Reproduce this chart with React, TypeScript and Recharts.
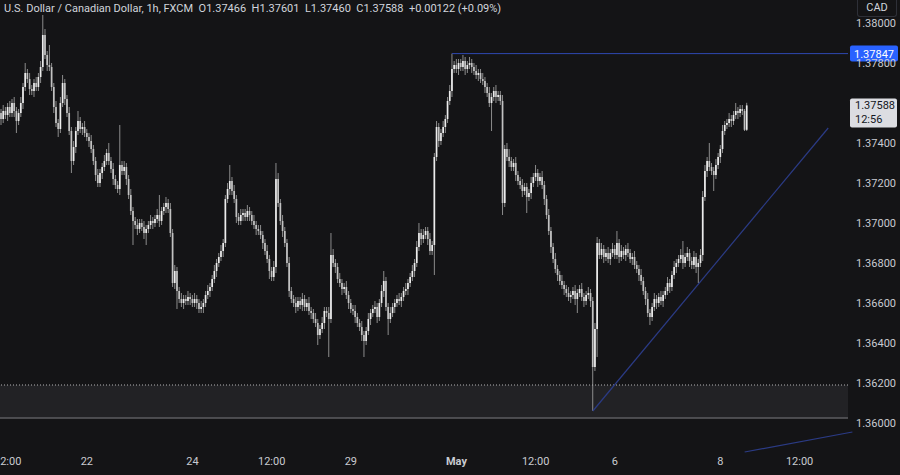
import React from 'react';
import { ComposedChart, Bar, XAxis, YAxis, ReferenceLine, ReferenceArea } from 'recharts';

// USDCAD 1h candles (oldest first)
const opens = [
  1.3755, 1.3752, 1.3756, 1.3754, 1.3758, 1.3755, 1.3760, 1.3756, 1.3751, 1.3755,
  1.3760, 1.3768, 1.3775, 1.3772, 1.3767, 1.3766, 1.3770, 1.3768, 1.3773, 1.3778,
  1.3794, 1.3784, 1.3779, 1.3778, 1.3768, 1.3758, 1.3750, 1.3747, 1.3760, 1.3770,
  1.3762, 1.3755, 1.3746, 1.3731, 1.3738, 1.3746, 1.3751, 1.3747, 1.3748, 1.3745,
  1.3743, 1.3741, 1.3737, 1.3731, 1.3724, 1.3720, 1.3725, 1.3728, 1.3731, 1.3735,
  1.3731, 1.3727, 1.3722, 1.3719, 1.3717, 1.3729, 1.3726, 1.3728, 1.3722, 1.3714,
  1.3706, 1.3701, 1.3699, 1.3697, 1.3700, 1.3698, 1.3695, 1.3697, 1.3699, 1.3701,
  1.3700, 1.3702, 1.3704, 1.3701, 1.3706, 1.3708, 1.3710, 1.3707, 1.3695, 1.3670,
  1.3676, 1.3666, 1.3662, 1.3660, 1.3662, 1.3661, 1.3663, 1.3662, 1.3660, 1.3662,
  1.3660, 1.3657, 1.3658, 1.3660, 1.3664, 1.3666, 1.3668, 1.3672, 1.3676, 1.3680,
  1.3683, 1.3686, 1.3690, 1.3712, 1.3717, 1.3721, 1.3716, 1.3712, 1.3703, 1.3701,
  1.3704, 1.3705, 1.3703, 1.3706, 1.3704, 1.3701, 1.3699, 1.3697, 1.3696, 1.3694,
  1.3690, 1.3686, 1.3682, 1.3676, 1.3673, 1.3678, 1.3722, 1.3710, 1.3701, 1.3696,
  1.3690, 1.3680, 1.3666, 1.3662, 1.3660, 1.3658, 1.3661, 1.3659, 1.3662, 1.3658,
  1.3660, 1.3656, 1.3655, 1.3652, 1.3650, 1.3644, 1.3647, 1.3650, 1.3656, 1.3655,
  1.3652, 1.3684, 1.3680, 1.3678, 1.3672, 1.3670, 1.3667, 1.3668, 1.3664, 1.3660,
  1.3657, 1.3656, 1.3653, 1.3650, 1.3648, 1.3644, 1.3641, 1.3646, 1.3652, 1.3655,
  1.3657, 1.3658, 1.3653, 1.3660, 1.3666, 1.3671, 1.3658, 1.3652, 1.3655, 1.3658,
  1.3660, 1.3662, 1.3661, 1.3663, 1.3666, 1.3667, 1.3670, 1.3673, 1.3676, 1.3680,
  1.3688, 1.3695, 1.3692, 1.3694, 1.3696, 1.3692, 1.3686, 1.3689, 1.3733, 1.3748,
  1.3741, 1.3745, 1.3748, 1.3752, 1.3761, 1.3766, 1.3777, 1.3779, 1.3777, 1.3780,
  1.3778, 1.3781, 1.3777, 1.3779, 1.3780, 1.3778, 1.3776, 1.3774, 1.3775, 1.3772,
  1.3771, 1.3768, 1.3765, 1.3760, 1.3763, 1.3766, 1.3763, 1.3764, 1.3761, 1.3710,
  1.3737, 1.3733, 1.3731, 1.3728, 1.3730, 1.3724, 1.3721, 1.3719, 1.3716, 1.3718,
  1.3713, 1.3715, 1.3720, 1.3723, 1.3725, 1.3721, 1.3723, 1.3719, 1.3712, 1.3704,
  1.3696, 1.3688, 1.3682, 1.3677, 1.3674, 1.3671, 1.3669, 1.3667, 1.3665, 1.3663,
  1.3664, 1.3666, 1.3662, 1.3665, 1.3667, 1.3663, 1.3661, 1.3664, 1.3665, 1.3661,
  1.3628, 1.3647, 1.3690, 1.3684, 1.3687, 1.3683, 1.3685, 1.3682, 1.3685, 1.3687,
  1.3684, 1.3690, 1.3683, 1.3686, 1.3684, 1.3687, 1.3685, 1.3682, 1.3683, 1.3679,
  1.3677, 1.3674, 1.3671, 1.3666, 1.3662, 1.3655, 1.3653, 1.3658, 1.3662, 1.3660,
  1.3663, 1.3661, 1.3664, 1.3666, 1.3670, 1.3668, 1.3674, 1.3678, 1.3680, 1.3682,
  1.3684, 1.3680, 1.3683, 1.3685, 1.3681, 1.3679, 1.3683, 1.3678, 1.3680, 1.3684,
  1.3713, 1.3726, 1.3731, 1.3728, 1.3726, 1.3724, 1.3729, 1.3733, 1.3737, 1.3746,
  1.3749, 1.3750, 1.3752, 1.3751, 1.3754, 1.3756, 1.3755, 1.3757, 1.3756, 1.37466,
];

const closes = [
  1.3752, 1.3756, 1.3754, 1.3758, 1.3755, 1.3760, 1.3756, 1.3751, 1.3755, 1.3760,
  1.3768, 1.3775, 1.3772, 1.3767, 1.3766, 1.3770, 1.3768, 1.3773, 1.3778, 1.3794,
  1.3784, 1.3779, 1.3778, 1.3768, 1.3758, 1.3750, 1.3747, 1.3760, 1.3770, 1.3762,
  1.3755, 1.3746, 1.3731, 1.3738, 1.3746, 1.3751, 1.3747, 1.3748, 1.3745, 1.3743,
  1.3741, 1.3737, 1.3731, 1.3724, 1.3720, 1.3725, 1.3728, 1.3731, 1.3735, 1.3731,
  1.3727, 1.3722, 1.3719, 1.3717, 1.3729, 1.3726, 1.3728, 1.3722, 1.3714, 1.3706,
  1.3701, 1.3699, 1.3697, 1.3700, 1.3698, 1.3695, 1.3697, 1.3699, 1.3701, 1.3700,
  1.3702, 1.3704, 1.3701, 1.3706, 1.3708, 1.3710, 1.3707, 1.3695, 1.3670, 1.3676,
  1.3666, 1.3662, 1.3660, 1.3662, 1.3661, 1.3663, 1.3662, 1.3660, 1.3662, 1.3660,
  1.3657, 1.3658, 1.3660, 1.3664, 1.3666, 1.3668, 1.3672, 1.3676, 1.3680, 1.3683,
  1.3686, 1.3690, 1.3712, 1.3717, 1.3721, 1.3716, 1.3712, 1.3703, 1.3701, 1.3704,
  1.3705, 1.3703, 1.3706, 1.3704, 1.3701, 1.3699, 1.3697, 1.3696, 1.3694, 1.3690,
  1.3686, 1.3682, 1.3676, 1.3673, 1.3678, 1.3722, 1.3710, 1.3701, 1.3696, 1.3690,
  1.3680, 1.3666, 1.3662, 1.3660, 1.3658, 1.3661, 1.3659, 1.3662, 1.3658, 1.3660,
  1.3656, 1.3655, 1.3652, 1.3650, 1.3644, 1.3647, 1.3650, 1.3656, 1.3655, 1.3652,
  1.3684, 1.3680, 1.3678, 1.3672, 1.3670, 1.3667, 1.3668, 1.3664, 1.3660, 1.3657,
  1.3656, 1.3653, 1.3650, 1.3648, 1.3644, 1.3641, 1.3646, 1.3652, 1.3655, 1.3657,
  1.3658, 1.3653, 1.3660, 1.3666, 1.3671, 1.3658, 1.3652, 1.3655, 1.3658, 1.3660,
  1.3662, 1.3661, 1.3663, 1.3666, 1.3667, 1.3670, 1.3673, 1.3676, 1.3680, 1.3688,
  1.3695, 1.3692, 1.3694, 1.3696, 1.3692, 1.3686, 1.3689, 1.3733, 1.3748, 1.3741,
  1.3745, 1.3748, 1.3752, 1.3761, 1.3766, 1.3777, 1.3779, 1.3777, 1.3780, 1.3778,
  1.3781, 1.3777, 1.3779, 1.3780, 1.3778, 1.3776, 1.3774, 1.3775, 1.3772, 1.3771,
  1.3768, 1.3765, 1.3760, 1.3763, 1.3766, 1.3763, 1.3764, 1.3761, 1.3710, 1.3737,
  1.3733, 1.3731, 1.3728, 1.3730, 1.3724, 1.3721, 1.3719, 1.3716, 1.3718, 1.3713,
  1.3715, 1.3720, 1.3723, 1.3725, 1.3721, 1.3723, 1.3719, 1.3712, 1.3704, 1.3696,
  1.3688, 1.3682, 1.3677, 1.3674, 1.3671, 1.3669, 1.3667, 1.3665, 1.3663, 1.3664,
  1.3666, 1.3662, 1.3665, 1.3667, 1.3663, 1.3661, 1.3664, 1.3665, 1.3661, 1.3628,
  1.3647, 1.3690, 1.3684, 1.3687, 1.3683, 1.3685, 1.3682, 1.3685, 1.3687, 1.3684,
  1.3690, 1.3683, 1.3686, 1.3684, 1.3687, 1.3685, 1.3682, 1.3683, 1.3679, 1.3677,
  1.3674, 1.3671, 1.3666, 1.3662, 1.3655, 1.3653, 1.3658, 1.3662, 1.3660, 1.3663,
  1.3661, 1.3664, 1.3666, 1.3670, 1.3668, 1.3674, 1.3678, 1.3680, 1.3682, 1.3684,
  1.3680, 1.3683, 1.3685, 1.3681, 1.3679, 1.3683, 1.3678, 1.3680, 1.3684, 1.3713,
  1.3726, 1.3731, 1.3728, 1.3726, 1.3724, 1.3729, 1.3733, 1.3737, 1.3746, 1.3749,
  1.3750, 1.3752, 1.3751, 1.3754, 1.3756, 1.3755, 1.3757, 1.3756, 1.37466, 1.37588,
];

// wick lengths above / below the body, in pips
const upperWicks = [
  2, 3, 2, 2, 3, 2, 3, 2, 2, 3,
  2, 5, 2, 3, 2, 2, 3, 2, 3, 10,
  3, 2, 10, 2, 2, 3, 2, 3, 4, 2,
  2, 3, 2, 3, 2, 5, 2, 2, 3, 2,
  2, 3, 2, 2, 3, 2, 2, 3, 2, 5,
  2, 3, 2, 2, 20, 2, 3, 2, 2, 3,
  2, 2, 3, 2, 2, 3, 2, 2, 3, 2,
  2, 3, 10, 2, 2, 3, 2, 3, 2, 3,
  2, 2, 3, 2, 2, 3, 2, 2, 3, 2,
  2, 3, 2, 2, 3, 2, 2, 3, 2, 2,
  3, 2, 2, 3, 8, 2, 3, 2, 2, 3,
  2, 2, 3, 2, 2, 3, 2, 2, 3, 2,
  2, 3, 2, 2, 3, 8, 3, 2, 3, 2,
  2, 3, 2, 2, 3, 2, 2, 3, 2, 2,
  3, 2, 2, 3, 2, 2, 3, 2, 2, 3,
  11, 3, 2, 2, 3, 2, 2, 3, 2, 2,
  2, 3, 2, 2, 3, 2, 2, 3, 2, 2,
  3, 2, 2, 3, 5, 2, 2, 3, 2, 2,
  2, 3, 2, 2, 3, 2, 2, 3, 2, 3,
  5, 2, 3, 2, 2, 3, 2, 2, 3, 2,
  2, 3, 2, 2, 3, 7.7, 2, 3, 2, 2,
  3, 2, 2, 3, 2, 2, 3, 2, 2, 3,
  2, 2, 3, 2, 2, 3, 2, 2, 3, 2,
  3, 4, 2, 2, 3, 2, 2, 3, 2, 2,
  2, 3, 2, 4, 2, 2, 3, 2, 2, 3,
  2, 2, 3, 2, 2, 3, 2, 2, 3, 2,
  2, 3, 2, 2, 3, 2, 2, 3, 2, 2,
  3, 3, 2, 3, 2, 2, 3, 2, 3, 2,
  6, 2, 3, 2, 2, 3, 2, 2, 3, 2,
  2, 3, 2, 2, 3, 2, 2, 3, 2, 2,
  3, 2, 2, 3, 2, 2, 3, 2, 2, 3,
  7, 2, 3, 2, 2, 3, 2, 2, 3, 3,
  3, 2, 9, 2, 2, 3, 2, 2, 3, 2,
  2, 3, 2, 2, 4, 2, 2, 2, 1, 1.3,
];

const lowerWicks = [
  3, 2, 2, 3, 2, 2, 3, 6, 2, 2,
  3, 2, 2, 3, 2, 3, 2, 2, 3, 2,
  2, 3, 2, 2, 3, 2, 4, 2, 2, 3,
  2, 2, 6, 2, 3, 2, 2, 3, 2, 2,
  3, 2, 2, 3, 2, 2, 3, 2, 2, 2,
  2, 3, 2, 2, 3, 2, 2, 3, 2, 2,
  12, 2, 3, 2, 2, 3, 6, 2, 2, 3,
  2, 2, 3, 2, 2, 3, 2, 2, 2, 3,
  9, 2, 2, 3, 2, 2, 3, 2, 2, 3,
  2, 2, 3, 2, 2, 3, 2, 2, 3, 2,
  2, 3, 2, 2, 3, 2, 2, 3, 2, 2,
  3, 2, 2, 3, 2, 2, 3, 2, 2, 3,
  2, 2, 4, 2, 2, 3, 2, 2, 3, 2,
  2, 3, 2, 2, 3, 2, 2, 3, 2, 2,
  2, 3, 2, 2, 5, 2, 2, 3, 2, 19,
  2, 2, 3, 2, 2, 3, 2, 2, 3, 2,
  2, 3, 2, 2, 3, 8, 2, 2, 3, 2,
  2, 3, 2, 2, 3, 2, 8, 2, 2, 3,
  2, 2, 3, 2, 2, 3, 2, 2, 3, 2,
  2, 3, 2, 2, 3, 2, 2, 15, 2, 3,
  2, 2, 3, 2, 2, 3, 2, 2, 3, 2,
  2, 3, 2, 2, 3, 2, 2, 3, 2, 2,
  3, 2, 2, 14, 2, 3, 2, 2, 6, 2,
  2, 3, 2, 2, 3, 2, 2, 3, 2, 8,
  2, 3, 2, 2, 3, 2, 2, 3, 2, 2,
  3, 2, 2, 3, 2, 2, 3, 2, 2, 3,
  2, 3, 7, 2, 2, 3, 2, 2, 3, 22,
  2, 14, 2, 2, 3, 2, 2, 3, 2, 2,
  2, 3, 2, 2, 3, 2, 2, 3, 2, 2,
  3, 2, 2, 3, 2, 4, 2, 2, 3, 2,
  2, 3, 2, 2, 3, 2, 2, 3, 2, 2,
  3, 2, 2, 3, 2, 2, 3, 8, 2, 3,
  2, 3, 2, 2, 8, 2, 2, 3, 2, 2,
  2, 2, 3, 2, 2, 3, 2, 2, 0.6, 0.6,
];

const timeTicks = [3, 39, 87, 123, 159, 207, 243, 279, 327, 363];
const timeLabels = ['12:00', '22', '24', '12:00', '29', 'May', '12:00', '6', '8', '12:00'];
// 1.37600 sits under the last-price tag in the reference, so it is not drawn
const priceTicks = [1.36, 1.362, 1.364, 1.366, 1.368, 1.37, 1.372, 1.374, 1.378, 1.38];

const resistance = 1.37847;
const lastPrice = 1.37588;
const zoneTop = 1.3619;
const zoneBottom = 1.36025;
const trendStart = { x: 269, y: 1.3606 };
const trendEnd = { x: 376, y: 1.37475 };

const PIP = 0.0001;
const BG = '#141416';
const TEXT = '#c9cbd1';
const FONT = 'Roboto, "Noto Sans", sans-serif';

const candles = closes.map((c, i) => {
  const o = opens[i];
  const high = Math.max(o, c) + upperWicks[i] * PIP;
  const low = Math.min(o, c) - lowerWicks[i] * PIP;
  return { i, open: o, close: c, high, low, range: [low, high] };
});

const Candle = (props: any) => {
  const { x, y, width, height, payload } = props;
  if (!payload || height == null) return null;
  const { open, close, high, low } = payload;
  const top = Math.min(y, y + height);
  const h = Math.abs(height);
  const span = high - low || 1e-9;
  const toY = (p: number) => top + ((high - p) / span) * h;
  const cx = x + width / 2;
  const up = close >= open;
  const bodyTop = toY(Math.max(open, close));
  const bodyH = Math.max(1, toY(Math.min(open, close)) - bodyTop);
  const color = up ? '#ececec' : '#c2c2c2';
  return (
    <g>
      <line x1={cx} x2={cx} y1={top} y2={top + h} stroke="#8c8c8c" strokeWidth={1} />
      <rect x={cx - 0.85} y={bodyTop} width={1.7} height={bodyH} fill={color} />
    </g>
  );
};

const TimeTick = (props: any) => {
  const { x, y, payload } = props;
  const label = timeLabels[timeTicks.indexOf(payload.value)];
  return (
    <text x={x} y={y + 10} textAnchor="middle" fill={TEXT} fontSize={11} fontFamily={FONT}
      fontWeight={label === 'May' ? 700 : 400}>
      {label}
    </text>
  );
};

const PriceTick = (props: any) => {
  const { x, y, payload } = props;
  return (
    <text x={x} y={y + 4} textAnchor="start" fill={TEXT} fontSize={11} fontFamily={FONT}>
      {payload.value.toFixed(5)}
    </text>
  );
};

const BlueTag = (props: any) => {
  const vb = props.viewBox || {};
  const left = vb.x + vb.width + 2;
  return (
    <g>
      <rect x={left} y={vb.y - 8} width={48} height={16} rx={2} fill="#2962ff" />
      <text x={left + 24} y={vb.y + 4} textAnchor="middle" fill="#ffffff" fontSize={11} fontFamily={FONT}>
        {resistance.toFixed(5)}
      </text>
    </g>
  );
};

const LastTag = (props: any) => {
  const vb = props.viewBox || {};
  const left = vb.x + vb.width + 2;
  return (
    <g>
      <rect x={left} y={vb.y - 7} width={47} height={29} rx={2} fill="#dcdde2" />
      <text x={left + 5} y={vb.y + 4} fill="#131722" fontSize={11} fontFamily={FONT}>
        {lastPrice.toFixed(5)}
      </text>
      <text x={left + 5} y={vb.y + 18} fill="#131722" fontSize={11} fontFamily={FONT}>
        12:56
      </text>
    </g>
  );
};

export default function App() {
  return (
    <div style={{ position: 'absolute', left: 0, top: 0, width: 900, height: 475, background: BG, overflow: 'hidden' }}>
      <ComposedChart width={900} height={475} data={candles} margin={{ top: 0, right: 0, bottom: 0, left: 0 }}>
        <XAxis
          dataKey="i"
          type="number"
          domain={[-0.5, 385]}
          allowDataOverflow
          ticks={timeTicks}
          interval={0}
          tick={<TimeTick />}
          axisLine={false}
          tickLine={false}
          height={28}
        />
        <YAxis
          orientation="right"
          type="number"
          domain={[1.3588, 1.38115]}
          allowDataOverflow
          ticks={priceTicks}
          interval={0}
          tick={<PriceTick />}
          axisLine={false}
          tickLine={false}
          width={52}
        />
        <ReferenceArea x1={-0.5} x2={385} y1={zoneBottom} y2={zoneTop} fill="#222225" fillOpacity={1} stroke="none" />
        <ReferenceLine y={zoneTop} stroke="#b4b4b6" strokeDasharray="1 2" />
        <ReferenceLine y={zoneBottom} stroke="#5c5c60" strokeWidth={1.5} />
        <ReferenceLine segment={[{ x: 205, y: resistance }, { x: 385, y: resistance }]} stroke="#2f48b0" />
        <ReferenceLine segment={[trendStart, trendEnd]} stroke="#2b3b85" strokeWidth={1.2} />
        <ReferenceLine
          segment={[{ x: 338, y: 1.35855 }, { x: 387, y: 1.35955 }]}
          stroke="#2b3b85"
          strokeWidth={1.2}
          ifOverflow="visible"
        />
        <Bar dataKey="range" barSize={2} shape={<Candle />} isAnimationActive={false} />
        <ReferenceLine y={resistance} stroke="transparent" label={(p: any) => <BlueTag {...p} />} />
        <ReferenceLine y={lastPrice} stroke="transparent" label={(p: any) => <LastTag {...p} />} />
      </ComposedChart>
      <div
        style={{
          position: 'absolute', left: 4, top: 1, fontFamily: FONT, fontSize: 11,
          color: '#d1d4dc', whiteSpace: 'pre', lineHeight: '15px',
        }}
      >
        {'U.S. Dollar / Canadian Dollar, 1h, FXCM  O1.37466  H1.37601  L1.37460  C1.37588  +0.00122 (+0.09%)'}
      </div>
      <div
        style={{
          position: 'absolute', left: 857, top: 0, width: 40, height: 17, border: '1px solid #2e3038',
          borderTop: 'none', borderRadius: '0 0 3px 3px', background: BG, color: '#d1d4dc',
          fontFamily: FONT, fontSize: 11, lineHeight: '16px', textAlign: 'center', boxSizing: 'border-box',
        }}
      >
        CAD
      </div>
    </div>
  );
}
